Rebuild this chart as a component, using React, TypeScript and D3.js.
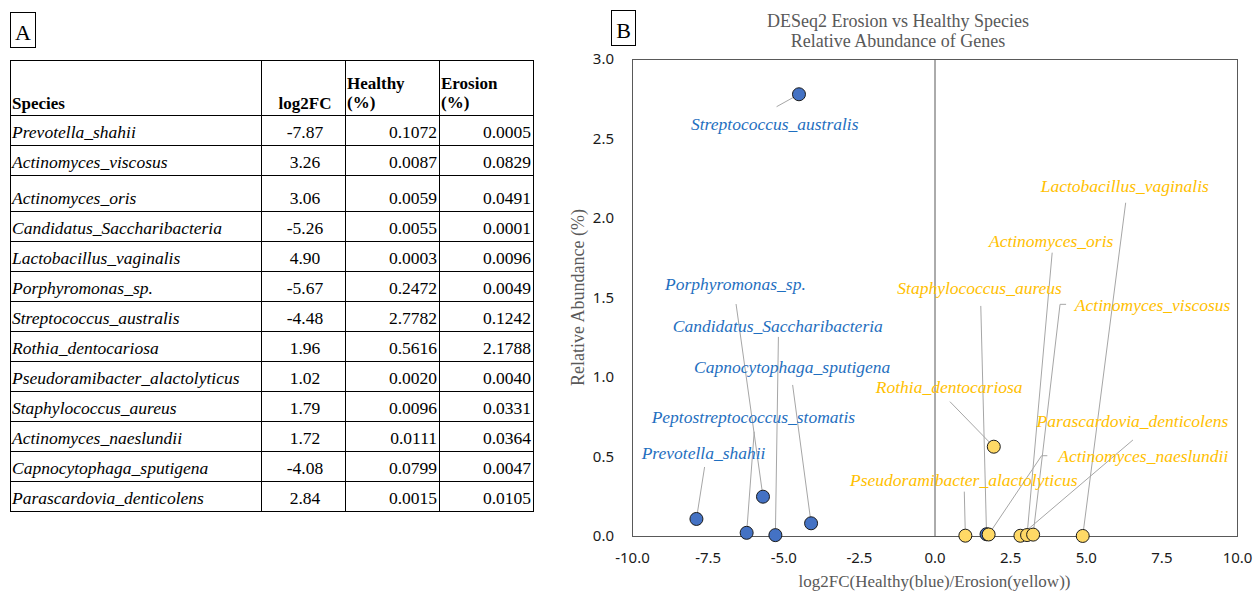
import React, { useEffect, useRef } from "react";
import * as d3 from "d3";

// ---- panel A : table values ----
const species = [
  "Prevotella_shahii",
  "Actinomyces_viscosus",
  "Actinomyces_oris",
  "Candidatus_Saccharibacteria",
  "Lactobacillus_vaginalis",
  "Porphyromonas_sp.",
  "Streptococcus_australis",
  "Rothia_dentocariosa",
  "Pseudoramibacter_alactolyticus",
  "Staphylococcus_aureus",
  "Actinomyces_naeslundii",
  "Capnocytophaga_sputigena",
  "Parascardovia_denticolens",
];
const log2FC = [-7.87, 3.26, 3.06, -5.26, 4.9, -5.67, -4.48, 1.96, 1.02, 1.79, 1.72, -4.08, 2.84];
const healthyPct = [0.1072, 0.0087, 0.0059, 0.0055, 0.0003, 0.2472, 2.7782, 0.5616, 0.002, 0.0096, 0.0111, 0.0799, 0.0015];
const erosionPct = [0.0005, 0.0829, 0.0491, 0.0001, 0.0096, 0.0049, 0.1242, 2.1788, 0.004, 0.0331, 0.0364, 0.0047, 0.0105];

// ---- panel B : scatter series ----
const blueSpecies = [
  "Prevotella_shahii",
  "Peptostreptococcus_stomatis",
  "Porphyromonas_sp.",
  "Candidatus_Saccharibacteria",
  "Capnocytophaga_sputigena",
  "Streptococcus_australis",
  "Actinomyces_naeslundii",
];
const blueX = [-7.87, -6.21, -5.67, -5.26, -4.08, -4.48, 1.72];
const blueY = [0.1072, 0.02, 0.2472, 0.0055, 0.0799, 2.7782, 0.0111];

const yellowSpecies = [
  "Pseudoramibacter_alactolyticus",
  "Staphylococcus_aureus",
  "Rothia_dentocariosa",
  "Parascardovia_denticolens",
  "Actinomyces_oris",
  "Actinomyces_viscosus",
  "Lactobacillus_vaginalis",
];
const yellowX = [1.02, 1.79, 1.96, 2.84, 3.06, 3.26, 4.9];
const yellowY = [0.002, 0.0096, 0.5616, 0.0015, 0.0059, 0.0087, 0.0003];

const xTicks = [-10, -7.5, -5, -2.5, 0, 2.5, 5, 7.5, 10];
const yTicks = [0, 0.5, 1, 1.5, 2, 2.5, 3];

// data labels (placed in data units, like the spreadsheet did)
const labelNames = [
  "Streptococcus_australis",
  "Porphyromonas_sp.",
  "Candidatus_Saccharibacteria",
  "Capnocytophaga_sputigena",
  "Peptostreptococcus_stomatis",
  "Prevotella_shahii",
  "Lactobacillus_vaginalis",
  "Actinomyces_oris",
  "Staphylococcus_aureus",
  "Actinomyces_viscosus",
  "Rothia_dentocariosa",
  "Parascardovia_denticolens",
  "Actinomyces_naeslundii",
  "Pseudoramibacter_alactolyticus",
];
const labelGroup = ["h", "h", "h", "h", "h", "h", "e", "e", "e", "e", "e", "e", "e", "e"];
const labelX = [-8.05, -8.91, -8.65, -7.95, -9.35, -9.68, 3.51, 1.8, -1.23, 4.64, -1.94, 3.37, 4.09, -2.79];
const labelY = [2.553, 1.547, 1.285, 1.027, 0.713, 0.482, 2.165, 1.819, 1.522, 1.417, 0.901, 0.684, 0.467, 0.314];
// leader line start, optional elbow, and the point it runs to
const leaderX = [-5.22, -6.56, -5.16, -4.69, -5.96, -7.6, 6.32, 3.89, 1.53, 4.35, 0.51, 6.56, 3.73, 0.985];
const leaderY = [2.7, 1.459, 1.252, 0.95, 0.656, 0.434, 2.096, 1.782, 1.447, 1.457, 0.845, 0.604, 0.505, 0.279];
const leaderElbow = [null, null, null, null, null, null, null, null, null, 4.15, null, null, 3.54, null];
const leaderTarget = [
  "Streptococcus_australis",
  "Porphyromonas_sp.",
  "Candidatus_Saccharibacteria",
  "Capnocytophaga_sputigena",
  "Peptostreptococcus_stomatis",
  "Prevotella_shahii",
  "Lactobacillus_vaginalis",
  "Actinomyces_oris",
  "Actinomyces_naeslundii",
  "Actinomyces_viscosus",
  "Rothia_dentocariosa",
  "Parascardovia_denticolens",
  "Staphylococcus_aureus",
  "Pseudoramibacter_alactolyticus",
];

const serif = "'Liberation Serif', 'Times New Roman', serif";
const sans = "'Noto Sans', 'DejaVu Sans', sans-serif";
const BLUE_TEXT = "#1F6FC0";
const GOLD_TEXT = "#FFC000";

type Sel = d3.Selection<SVGSVGElement, unknown, null, undefined>;

function drawTable(svg: Sel) {
  const g = svg.append("g");
  const cols = [10, 261, 345, 439, 533];
  const top = 60;
  const headBottom = 115;
  const heights = species.map((s) => (s === "Actinomyces_oris" ? 36 : 30));
  const bottoms: number[] = [];
  heights.reduce((acc, h) => {
    bottoms.push(acc + h);
    return acc + h;
  }, headBottom);
  const bottom = bottoms[bottoms.length - 1];

  // letter box
  g.append("rect").attr("x", 10.5).attr("y", 12.5).attr("width", 25).attr("height", 35)
    .attr("fill", "none").attr("stroke", "#000");
  g.append("text").attr("x", 23).attr("y", 40).attr("text-anchor", "middle")
    .style("font-family", serif).style("font-size", "22px").text("A");

  // grid
  g.append("rect").attr("x", cols[0] + 0.5).attr("y", top + 0.5)
    .attr("width", cols[4] - cols[0]).attr("height", bottom - top)
    .attr("fill", "none").attr("stroke", "#000");
  g.selectAll("line.col").data(cols.slice(1, 4)).enter().append("line")
    .attr("x1", (d) => d + 0.5).attr("x2", (d) => d + 0.5)
    .attr("y1", top).attr("y2", bottom)
    .attr("stroke", "#000");
  g.selectAll("line.row").data([headBottom, ...bottoms.slice(0, -1)]).enter().append("line")
    .attr("x1", cols[0]).attr("x2", cols[4])
    .attr("y1", (d) => d + 0.5).attr("y2", (d) => d + 0.5)
    .attr("stroke", "#000");

  const head = g.append("g").style("font-family", serif).style("font-size", "17px").style("font-weight", "bold");
  head.append("text").attr("x", 12).attr("y", 109).text("Species");
  head.append("text").attr("x", (cols[1] + cols[2]) / 2 + 2).attr("y", 109).attr("text-anchor", "middle").text("log2FC");
  head.append("text").attr("x", cols[2] + 2).attr("y", 89).text("Healthy");
  head.append("text").attr("x", cols[2] + 2).attr("y", 108).text("(%)");
  head.append("text").attr("x", cols[3] + 2).attr("y", 89).text("Erosion");
  head.append("text").attr("x", cols[3] + 2).attr("y", 108).text("(%)");

  const rows = g.selectAll("g.row").data(species).enter().append("g")
    .style("font-family", serif).style("font-size", "17.5px");
  rows.append("text").attr("x", 12).attr("y", (_, i) => bottoms[i] - 7)
    .style("font-style", "italic").text((d) => d);
  rows.append("text").attr("x", (cols[1] + cols[2]) / 2 + 2).attr("y", (_, i) => bottoms[i] - 7)
    .attr("text-anchor", "middle").text((_, i) => log2FC[i].toFixed(2));
  rows.append("text").attr("x", cols[3] - 2).attr("y", (_, i) => bottoms[i] - 7)
    .attr("text-anchor", "end").text((_, i) => healthyPct[i].toFixed(4));
  rows.append("text").attr("x", cols[4] - 2).attr("y", (_, i) => bottoms[i] - 7)
    .attr("text-anchor", "end").text((_, i) => erosionPct[i].toFixed(4));
}

function drawChart(svg: Sel) {
  const x = d3.scaleLinear().domain([-10, 10]).range([632, 1237]);
  const y = d3.scaleLinear().domain([0, 3]).range([536, 59]);
  const g = svg.append("g");

  g.append("rect").attr("x", 611.5).attr("y", 10.5).attr("width", 24).attr("height", 35)
    .attr("fill", "none").attr("stroke", "#000");
  g.append("text").attr("x", 623.5).attr("y", 38).attr("text-anchor", "middle")
    .style("font-family", serif).style("font-size", "22px").text("B");

  // title
  const title = g.append("text").attr("text-anchor", "middle")
    .style("font-family", serif).style("font-size", "18px").attr("fill", "#595959");
  title.append("tspan").attr("x", 898).attr("y", 27).text("DESeq2 Erosion vs Healthy Species");
  title.append("tspan").attr("x", 898).attr("y", 47).text("Relative Abundance of Genes");

  // plot frame and zero line
  g.append("rect").attr("x", x(-10) + 0.5).attr("y", y(3) + 0.5)
    .attr("width", x(10) - x(-10)).attr("height", y(0) - y(3))
    .attr("fill", "none").attr("stroke", "#595959");
  g.append("line").attr("x1", x(0) + 0.5).attr("x2", x(0) + 0.5)
    .attr("y1", y(3)).attr("y2", y(0)).attr("stroke", "#595959");

  const fmt = (d: d3.NumberValue) => (+d).toFixed(1);
  const ya = g.append("g").attr("transform", `translate(${x(-10)},0)`)
    .call(d3.axisLeft(y).tickValues(yTicks).tickSize(0).tickPadding(18).tickFormat(fmt));
  const xa = g.append("g").attr("transform", `translate(0,${y(0)})`)
    .call(d3.axisBottom(x).tickValues(xTicks).tickSize(0).tickPadding(16).tickFormat(fmt));
  [ya, xa].forEach((a) => {
    a.select(".domain").remove();
    a.selectAll("text").style("font-family", sans).style("font-size", "15px").attr("fill", "#1a1a1a");
  });

  g.append("text").attr("x", x(0)).attr("y", 587).attr("text-anchor", "middle")
    .style("font-family", serif).style("font-size", "17px").attr("fill", "#595959")
    .text("log2FC(Healthy(blue)/Erosion(yellow))");
  g.append("text").attr("transform", `translate(584,${(y(0) + y(3)) / 2}) rotate(-90)`)
    .attr("text-anchor", "middle")
    .style("font-family", serif).style("font-size", "18px").attr("fill", "#595959")
    .text("Relative Abundance (%)");

  // where each point sits, for the leader lines
  const pos = new Map<string, [number, number]>();
  blueSpecies.forEach((s, i) => pos.set(s, [blueX[i], blueY[i]]));
  yellowSpecies.forEach((s, i) => pos.set(s, [yellowX[i], yellowY[i]]));

  // leader lines
  g.selectAll("path.leader").data(labelNames).enter().append("path")
    .attr("fill", "none").attr("stroke", "#A6A6A6").attr("stroke-width", 1)
    .attr("d", (_, i) => {
      const p = d3.path();
      p.moveTo(x(leaderX[i]), y(leaderY[i]));
      const e = leaderElbow[i];
      if (e !== null) p.lineTo(x(e), y(leaderY[i]));
      const t = pos.get(leaderTarget[i])!;
      p.lineTo(x(t[0]), y(t[1]));
      return p.toString();
    });

  // labels
  g.selectAll("text.lbl").data(labelNames).enter().append("text")
    .attr("x", (_, i) => x(labelX[i])).attr("y", (_, i) => y(labelY[i]))
    .style("font-family", serif).style("font-size", "17.5px").style("font-style", "italic")
    .attr("fill", (_, i) => (labelGroup[i] === "h" ? BLUE_TEXT : GOLD_TEXT))
    .text((d) => d);

  // markers: healthy first, erosion on top
  g.selectAll("circle.h").data(blueX).enter().append("circle")
    .attr("cx", (d) => x(d)).attr("cy", (_, i) => y(blueY[i])).attr("r", 6.5)
    .attr("fill", "#4472C4").attr("stroke", "#1a1a1a").attr("stroke-width", 1);
  g.selectAll("circle.e").data(yellowX).enter().append("circle")
    .attr("cx", (d) => x(d)).attr("cy", (_, i) => y(yellowY[i])).attr("r", 6.5)
    .attr("fill", "#FFD966").attr("stroke", "#1a1a1a").attr("stroke-width", 1);
}

export default function App() {
  const ref = useRef<SVGSVGElement>(null);

  useEffect(() => {
    document.body.style.margin = "0";
    const svg = d3.select(ref.current!) as Sel;
    svg.selectAll("*").remove();
    drawTable(svg);
    drawChart(svg);
  }, []);

  return <svg ref={ref} width={1255} height={592} style={{ display: "block", background: "#fff" }} />;
}
